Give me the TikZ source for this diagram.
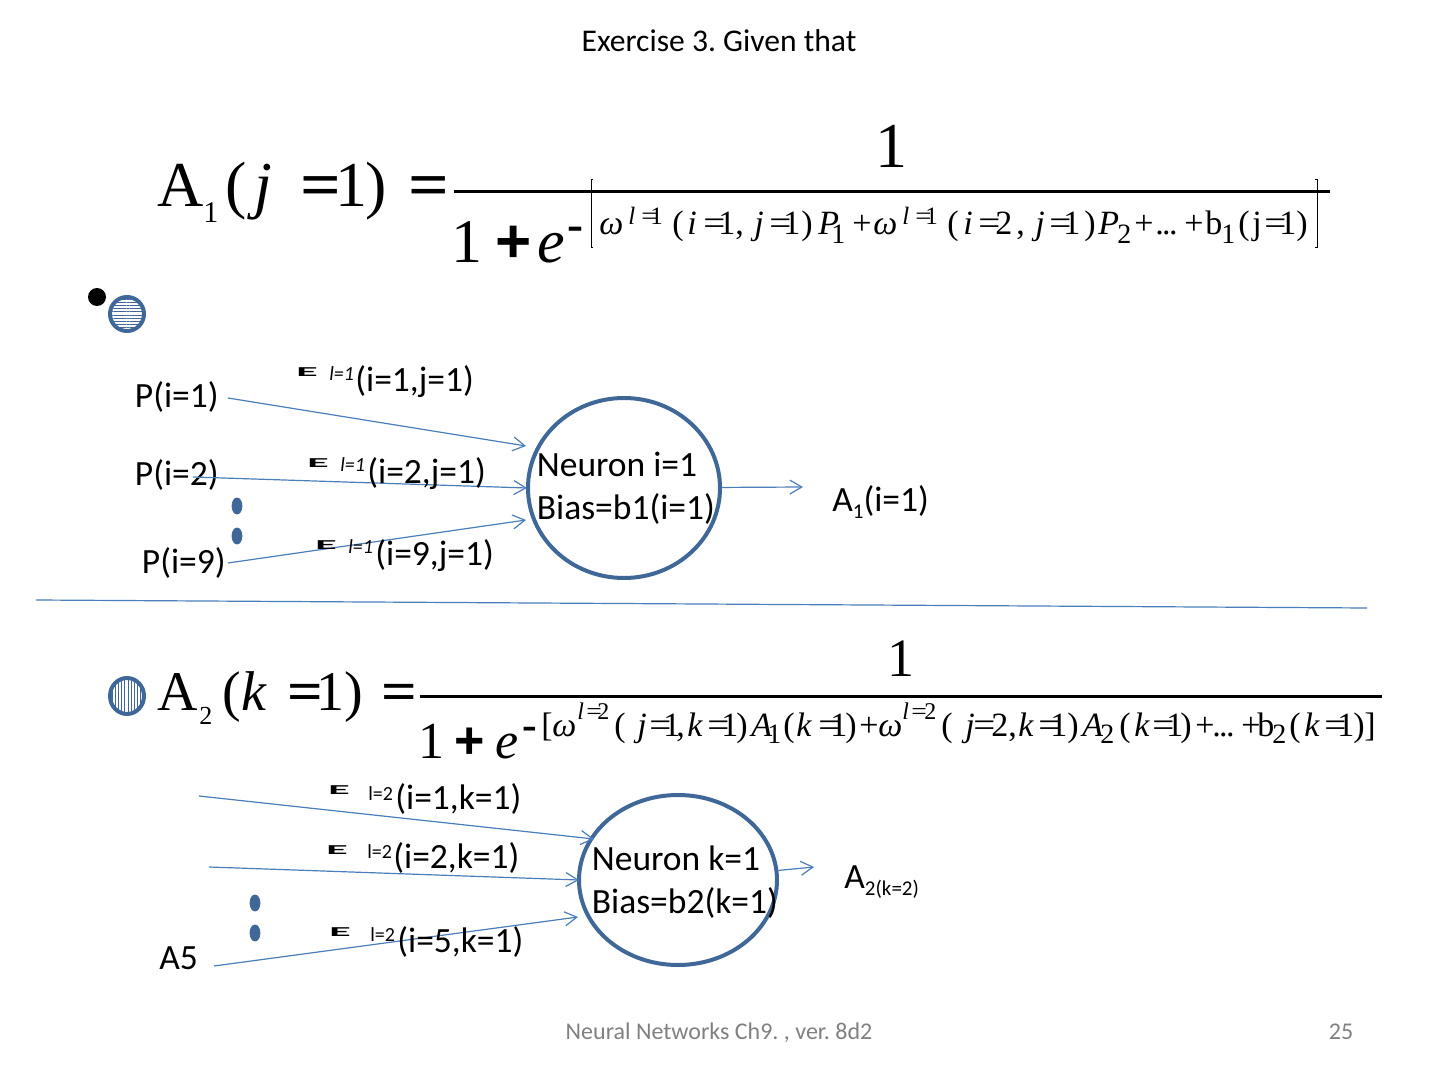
\documentclass[tikz,border=0pt]{standalone}
\usepackage{fontspec}
\usepackage{graphicx}
\setmainfont{Carlito}
\newfontfamily\fser{Liberation Serif}
\newfontfamily\fsan{Liberation Sans}
\usetikzlibrary{arrows.meta}
\usetikzlibrary{shapes.geometric}
\usetikzlibrary{patterns.meta}
\definecolor{cline}{HTML}{4A7EBB}
\definecolor{cring}{HTML}{3F6797}
\newcommand{\weight}{\scalebox{2.2}[.68]{\textbf{E}}}
\newcommand{\fsz}[1]{\fontsize{#1}{#1}\selectfont}
\newcommand{\tdots}{.\kern-.05em.\kern-.05em.}
\newcommand{\teq}{\scalebox{1.15}[1]{=}}
\newcommand{\beq}{\scalebox{1.12}[1]{\textbf{=}}}
\newcommand{\bplus}{{\fsan\bfseries +}}
\tikzset{ma/.style={->, >={Straight Barb[length=6pt,width=7pt]}, cline, line width=.6pt}}
\tikzset{tx/.style={anchor=base west, inner sep=0pt, font=\fsz{17.75}}}
\tikzset{fm/.style={anchor=base west, inner sep=0pt, font=\fser\fsz{#1}}}
\tikzset{nr/.style={draw=cring, line width=2pt, ellipse, inner sep=0pt}}
\tikzset{dt/.style={draw=cring, fill=cring, ellipse, inner sep=0pt, minimum width=5pt, minimum height=8pt}}

\begin{document}
\frenchspacing
\begin{tikzpicture}[x=.5pt, y=-.5pt]
\useasboundingbox (0,0) rectangle (1440,1080);

\node [font=\fsz{15.8}, anchor=base, inner sep=0pt] (title) at (719,52) {Exercise 3. Given that};

% first formula
\foreach \x/\t in {157/A, 225/(, 254/\textit{j}, 300/\beq, 335/1, 365/), 408/\beq}
  \node [fm=32] (la\x) at (\x,207) {\t};
\node [fm=15] (la1) at (203,223) {1};
\node [fm=32] (ta) at (875,168) {1};
\foreach \x/\t in {451/1, 495/\bplus, 537/\textit{e}}
  \node [fm=31] (ba\x) at (\x,263) {\t};
\node [fm=24] (ma) at (567,241) {\textbf{-}};
\foreach \x/\t in {599/\textit{ω}, 672/(, 687/\textit{i}, 703/\teq, 718/1, 735/{,}, 754/\textit{j}, 769/\teq, 783/1, 801/), 818/\textit{P},
  852/+, 873/\textit{ω}, 947/(, 963/\textit{i}, 978/\teq, 995/2, 1016/{,}, 1035/\textit{j}, 1049/\teq, 1063/1, 1084/), 1098/\textit{P},
  1134/+, 1155/\tdots, 1184/+, 1205/b, 1238/(, 1252/j, 1264/\teq, 1279/1, 1296/)}
  \node [fm=17] (da\x) at (\x,235) {\t};
\foreach \x/\t in {628/\textit{l}, 641/\teq, 650/1, 902/\textit{l}, 915/\teq, 925/1}
  \node [fm=12.5] (ea\x) at (\x,225) {\t};
\foreach \x/\t in {831/1, 1117/2, 1221/1}
  \node [fm=14] (sa\x) at (\x,244) {\t};
\draw [line width=1.5pt] (454,192) -- (1330,192);
\draw [line width=.5pt] (593,180) -| (591,248) -- (593,248);
\draw [line width=.5pt] (1315,180) -| (1317,248) -- (1315,248);

% bullets
\node [circle, fill=black, minimum size=9pt, inner sep=0pt] (dot) at (97,297) {};
\node [circle, draw=cring, line width=2pt, minimum size=17pt, inner sep=0pt,
  pattern={Lines[angle=0,distance=1.6pt,line width=.5pt]}, pattern color=cring] (hb) at (127,314) {};
\node [ellipse, draw=cring, line width=2pt, minimum width=17pt, minimum height=18pt, inner sep=0pt,
  pattern={Lines[angle=90,distance=1.6pt,line width=.5pt]}, pattern color=cring] (vb) at (127,696) {};

% upper neuron
\node [nr, minimum width=96pt, minimum height=90pt] (n1) at (624,488) {};
\node [tx] (t1) at (536.5,476) {Neuron i=1};
\node [tx] (t2) at (536.5,519) {Bias=b1(i=1)};
\node [tx] (p1) at (134.5,408) {P(i=1)};
\node [tx] (p2) at (134.5,486) {P(i=2)};
\node [tx] (p9) at (141.5,573) {P(i=9)};
\node [dt] (d1) at (237,506) {};
\node [dt] (d2) at (237,536) {};

\coordinate (s1) at (228,398);
\coordinate (e1) at (526,446);
\coordinate (s2) at (193,477);
\coordinate (e2) at (527,488);
\coordinate (s9) at (228,563);
\coordinate (e9) at (526,520);
\coordinate (o1) at (803,487);
\draw [ma] (s1) -- (e1);
\draw [ma] (s2) -- (e2);
\draw [ma] (s9) -- (e9);
\draw [ma] (n1) -- (o1);

\node [anchor=center, inner sep=0pt] (w1) at (307,372) {\weight};
\node [tx] (l1) at (329,381) {\fsz{10}\textit{l=1}};
\node [tx] (a1) at (355,392) {(i=1,j=1)};
\node [anchor=center, inner sep=0pt] (w2) at (318,463) {\weight};
\node [tx] (l2) at (340,472) {\fsz{10}\textit{l=1}};
\node [tx] (a2) at (367,483) {(i=2,j=1)};
\node [anchor=center, inner sep=0pt] (w9) at (326,545) {\weight};
\node [tx] (l9) at (348,553) {\fsz{10}\textit{l=1}};
\node [tx] (a9) at (375,565) {(i=9,j=1)};
\node [tx] (o1t) at (832,511) {A\raisebox{-3.5pt}{\fsz{10.5}1}(i=1)};

% divider
\coordinate (la) at (36,600);
\coordinate (lb) at (1367,608);
\draw [cline, line width=.6pt] (la) -- (lb);

% second formula
\foreach \x/\t in {157/A, 222/(, 241/\textit{k}, 287/\beq, 316/1, 344/), 381/\beq}
  \node [fm=28] (lb\x) at (\x,710) {\t};
\node [fm=13] (lb2) at (199,724) {2};
\node [fm=27] (tb) at (887,676) {1};
\foreach \x/\t in {418/1, 454/\bplus, 495/\textit{e}}
  \node [fm=26] (bb\x) at (\x,758) {\t};
\node [fm=22] (mb) at (522,739) {\textbf{-}};
\foreach \x/\t in {541/[, 552/\textit{ω}, 614/(, 637/\textit{j}, 649/\teq, 663/1, 676/{,}, 687/\textit{k}, 707/\teq, 721/1, 736/), 751/\textit{A},
  783/(, 796/\textit{k}, 818/\teq, 830/1, 845/), 859/+, 878/\textit{ω}, 941/(, 965/\textit{j}, 973/\teq, 991/2, 1008/{,}, 1018/\textit{k},
  1038/\teq, 1050/1, 1067/), 1082/\textit{A}, 1119/(, 1134/\textit{k}, 1152/\teq, 1166/1, 1180/), 1195/+, 1212/\tdots, 1241/+, 1257/b,
  1289/(, 1304/\textit{k}, 1324/\teq, 1337/1, 1353/), 1364/]}
  \node [fm=17] (db\x) at (\x,736) {\t};
\foreach \x/\t in {577/\textit{l}, 586/\teq, 597/2, 902/\textit{l}, 911/\teq, 924/2}
  \node [fm=12] (eb\x) at (\x,719) {\t};
\foreach \x/\t in {767/1, 1100/2, 1272/2}
  \node [fm=14] (sb\x) at (\x,743) {\t};
\draw [line width=1.5pt] (420,696) -- (1382,696);

% lower neuron
\node [nr, minimum width=99pt, minimum height=85pt] (n2) at (678,880) {};
\node [tx] (t3) at (591.5,870) {Neuron k=1};
\node [tx] (t4) at (591.5,913) {Bias=b2(k=1)};
\node [tx] (a5) at (159,969) {A5};
\node [dt] (d3) at (255,903) {};
\node [dt] (d4) at (255,933) {};

\coordinate (s3) at (199,796);
\coordinate (e3) at (594,839);
\coordinate (s4) at (209,867);
\coordinate (e4) at (579,880);
\coordinate (s5) at (214,966);
\coordinate (e5) at (578,917);
\coordinate (o2) at (814,867);
\draw [ma] (s3) -- (e3);
\draw [ma] (s4) -- (e4);
\draw [ma] (s5) -- (e5);
\draw [ma] (n2) -- (o2);

\node [anchor=center, inner sep=0pt] (w3) at (339,790) {\weight};
\node [tx] (l3) at (368,800) {\fsz{10}l=2};
\node [tx] (a3) at (395,809) {(i=1,k=1)};
\node [anchor=center, inner sep=0pt] (w4) at (337,850) {\weight};
\node [tx] (l4) at (367,858) {\fsz{10}l=2};
\node [tx] (a4) at (393,868) {(i=2,k=1)};
\node [anchor=center, inner sep=0pt] (w5) at (340,932) {\weight};
\node [tx] (l5) at (370,941) {\fsz{10}l=2};
\node [tx] (a6) at (397,952) {(i=5,k=1)};
\node [tx] (o2t) at (844,888) {A\raisebox{-3.5pt}{\fsz{10.5}2(k=2)}};

% footer
\node [anchor=base, inner sep=0pt, text=black!50, font=\fsz{12}] (foot) at (719,1039) {Neural Networks Ch9. , ver. 8d2};
\node [anchor=base, inner sep=0pt, text=black!50, font=\fsz{12}] (num) at (1341,1039) {25};
\end{tikzpicture}
\end{document}
